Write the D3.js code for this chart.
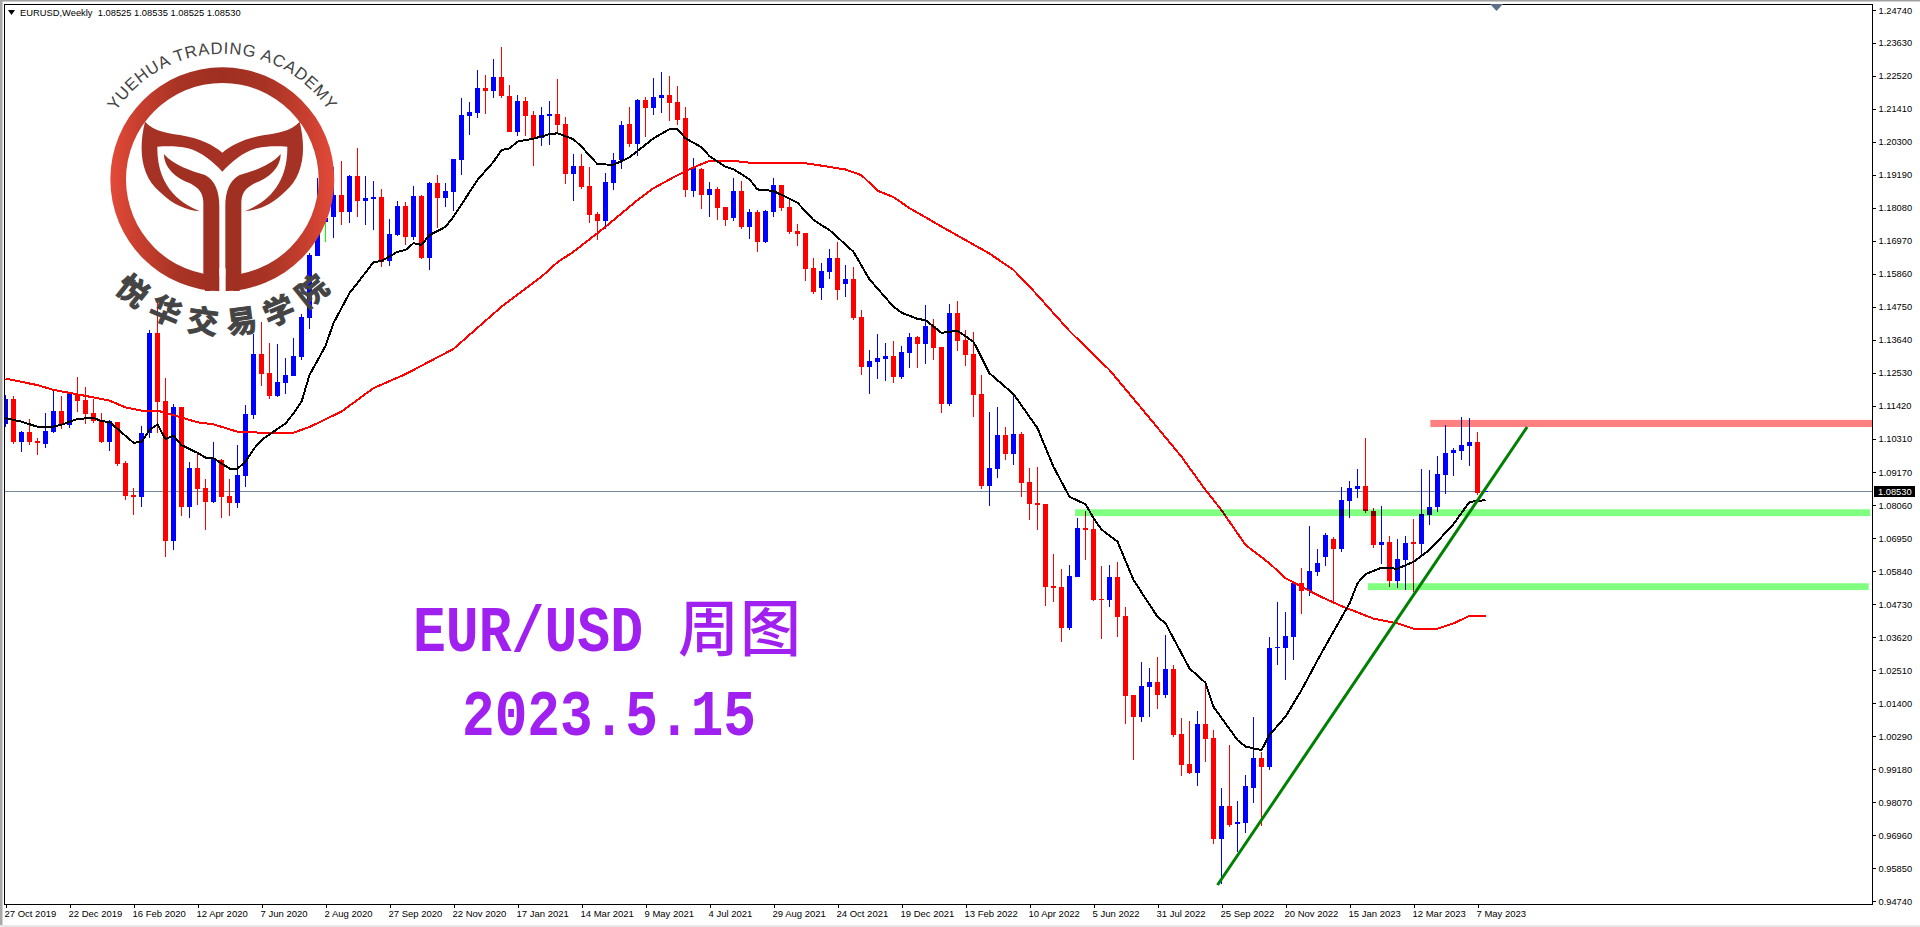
<!DOCTYPE html>
<html><head><meta charset="utf-8">
<script src="https://cdn.jsdelivr.net/npm/d3@7/dist/d3.min.js"></script>
<style>html,body{margin:0;padding:0;background:#fff;overflow:hidden}svg{display:block}
text{font-family:"Liberation Sans",Arial,sans-serif}</style></head><body><svg id="c" width="1920" height="927"></svg>
<script>
const opens=[1.1080,1.1164,1.1020,1.1053,1.1023,1.1013,1.1053,1.1124,1.1077,1.1181,
1.1161,1.1117,1.1090,1.1020,1.1087,1.0949,1.0841,1.0834,1.1050,1.1387,
1.1158,1.0686,1.1137,1.0801,1.0932,1.0865,1.0817,1.0959,1.0838,1.0814,
1.0905,1.1110,1.1316,1.1252,1.1175,1.1218,1.1242,1.1306,1.1437,1.1646,
1.1760,1.1777,1.1851,1.1794,1.1916,1.1831,1.1838,1.1845,1.1629,1.1717,
1.1815,1.1710,1.1848,1.1639,1.1892,1.1841,1.1861,1.1969,1.2117,1.2127,
1.2212,1.2201,1.2249,1.2184,1.2064,1.2168,1.2121,1.2043,1.2117,1.2124,
1.2090,1.1922,1.1949,1.1881,1.1787,1.1763,1.1892,1.1969,1.2090,1.2023,
1.2171,1.2144,1.2178,1.2188,1.2164,1.2110,1.1865,1.1939,1.1851,1.1871,
1.1811,1.1774,1.1865,1.1743,1.1794,1.1693,1.1794,1.1885,1.1811,1.1730,
1.1723,1.1606,1.1538,1.1592,1.1639,1.1551,1.1568,1.1440,1.1272,1.1289,
1.1299,1.1309,1.1238,1.1319,1.1373,1.1350,1.1410,1.1339,1.1148,1.1454,
1.1363,1.1316,1.1181,1.0872,1.0929,1.1043,1.0979,1.1047,1.0885,1.0814,
1.0811,1.0535,1.0531,1.0393,1.0565,1.0730,1.0727,1.0491,1.0488,1.0565,
1.0434,1.0168,1.0094,1.0195,1.0212,1.0168,1.0255,1.0037,.9935,.9905,
1.0070,1.0023,.9683,.9794,.9734,.9737,.9855,.9956,.9926,1.0326,
1.0326,1.0363,1.0545,1.0518,1.0582,1.0632,1.0693,1.0659,1.0821,1.0861,
1.0871,1.0787,1.0673,1.0683,1.0552,1.0622,1.0683,1.0676,1.0774,1.0801,
1.0909,1.0983,1.0989,1.1006,1.1020,1.08525];
const closes=[1.1164,1.1020,1.1053,1.1020,1.1017,1.1057,1.1124,1.1080,1.1181,1.1158,
1.1114,1.1090,1.1020,1.1090,1.0946,1.0838,1.0834,1.1050,1.1387,1.1154,
1.0686,1.1137,1.0801,1.0932,1.0861,1.0817,1.0966,1.0834,1.0814,1.0909,
1.1114,1.1316,1.1249,1.1175,1.1222,1.1245,1.1309,1.1440,1.1649,1.1760,
1.1775,1.1851,1.1794,1.1916,1.1831,1.1841,1.1845,1.1626,1.1720,1.1815,
1.1710,1.1848,1.1639,1.1892,1.1841,1.1865,1.1973,1.2121,1.2131,1.2212,
1.2201,1.2249,1.2184,1.2064,1.2168,1.2117,1.2043,1.2121,1.2124,1.2087,
1.1922,1.1949,1.1878,1.1784,1.1763,1.1895,1.1969,1.2087,1.2023,1.2171,
1.2144,1.2181,1.2188,1.2161,1.2104,1.1868,1.1942,1.1851,1.1871,1.1807,
1.1767,1.1865,1.1743,1.1794,1.1693,1.1797,1.1885,1.1807,1.1727,1.1720,
1.1602,1.1525,1.1595,1.1639,1.1531,1.1568,1.1437,1.1272,1.1292,1.1302,
1.1309,1.1238,1.1323,1.1373,1.1350,1.1410,1.1336,1.1148,1.1454,1.1360,
1.1312,1.1178,1.0872,1.0932,1.1043,1.0979,1.1047,1.0882,1.0811,1.0808,
1.0531,1.0528,1.0393,1.0569,1.0730,1.0723,1.0488,1.0488,1.0565,1.0431,
1.0165,1.0094,1.0198,1.0212,1.0168,1.0255,1.0033,.9932,.9905,1.0070,
1.0020,.9683,.9794,.9730,.9740,.9862,.9956,.9926,1.0326,1.0329,
1.0366,1.0545,1.0518,1.0585,1.0612,1.0706,1.0659,1.0824,1.0865,1.0871,
1.0787,1.0673,1.0683,1.0552,1.0626,1.0680,1.0676,1.0777,1.0801,1.0912,
1.0983,1.0993,1.1009,1.1020,1.0848,1.0853];
const highs=[1.1178,1.1175,1.1057,1.1097,1.1033,1.1117,1.1191,1.1175,1.1185,1.1239,
1.1205,1.1164,1.1117,1.1094,1.1087,1.0956,1.0865,1.1073,1.1397,1.1494,
1.1235,1.1147,1.1137,1.0952,1.0982,1.0895,1.1020,1.0962,1.0895,1.1010,
1.1144,1.1383,1.1424,1.1353,1.1349,1.1302,1.1370,1.1450,1.1656,1.1909,
1.1800,1.1945,1.1966,1.1919,1.2010,1.1916,1.1898,1.1872,1.1770,1.1831,
1.1828,1.1882,1.1851,1.1895,1.1919,1.1892,1.1973,1.2178,1.2164,1.2272,
1.2255,1.2309,1.2349,1.2222,1.2188,1.2181,1.2134,1.2147,1.2168,1.2242,
1.2114,1.1989,1.1989,1.1945,1.1794,1.1925,1.1993,1.2100,1.2147,1.2174,
1.2181,1.2245,1.2265,1.2252,1.2218,1.2147,1.1976,1.1942,1.1895,1.1878,
1.1811,1.1909,1.1898,1.1804,1.1801,1.1801,1.1909,1.1885,1.1841,1.1754,
1.1723,1.1639,1.1622,1.1669,1.1693,1.1616,1.1609,1.1464,1.1329,1.1383,
1.1353,1.1360,1.1343,1.1387,1.1376,1.1481,1.1434,1.1339,1.1484,1.1494,
1.1397,1.1390,1.1245,1.1121,1.1137,1.1070,1.1185,1.1053,1.0932,1.0936,
1.0811,1.0642,1.0592,1.0605,1.0764,1.0787,1.0760,1.0602,1.0605,1.0615,
1.0464,1.0168,1.0279,1.0259,1.0296,1.0370,1.0269,1.0090,1.0080,1.0114,
1.0202,1.0050,.9855,1.0000,.9811,.9898,1.0094,.9976,1.0363,1.0481,
1.0447,1.0548,1.0596,1.0737,1.0659,1.0713,1.0700,1.0868,1.0888,1.0929,
1.1033,1.0797,1.0804,1.0703,1.0693,1.0703,1.0760,1.0929,1.0925,1.0972,
1.1077,1.0999,1.1103,1.1100,1.1053,1.08535];
const lows=[1.1071,1.1013,1.0986,1.1010,1.0976,1.1000,1.1050,1.1063,1.1067,1.1121,
1.1080,1.1084,1.1016,1.0990,1.0939,1.0825,1.0774,1.0801,1.1033,1.1050,
1.0633,1.0656,1.0771,1.0764,1.0808,1.0723,1.0814,1.0764,1.0771,1.0798,
1.0868,1.1097,1.1208,1.1164,1.1171,1.1181,1.1242,1.1296,1.1400,1.1646,
1.1694,1.1707,1.1751,1.1757,1.1777,1.1751,1.1733,1.1609,1.1612,1.1713,
1.1683,1.1700,1.1636,1.1599,1.1740,1.1811,1.1797,1.1919,1.2053,1.2110,
1.2124,1.2178,1.2178,1.2064,1.2050,1.2050,1.1949,1.2016,1.2020,1.2064,
1.1888,1.1831,1.1871,1.1757,1.1700,1.1737,1.1868,1.1939,1.2013,1.1983,
1.2046,1.2120,1.2127,1.2100,1.2087,1.1844,1.1844,1.1804,1.1777,1.1767,
1.1747,1.1764,1.1737,1.1703,1.1659,1.1690,1.1777,1.1797,1.1720,1.1680,
1.1562,1.1518,1.1498,1.1568,1.1498,1.1508,1.1430,1.1245,1.1181,1.1232,
1.1225,1.1218,1.1232,1.1269,1.1269,1.1282,1.1296,1.1117,1.1141,1.1326,
1.1275,1.1104,1.0861,1.0804,1.0899,1.0959,1.0942,1.0834,1.0757,1.0723,
1.0468,1.0481,1.0346,1.0387,1.0565,1.0622,1.0484,1.0356,1.0464,1.0363,
1.0070,.9949,1.0077,1.0094,1.0121,1.0158,1.0026,.9895,.9902,.9862,
.9942,.9666,.9532,.9724,.9639,.9703,.9804,.9727,.9915,1.0269,
1.0218,1.0286,1.0441,1.0501,1.0569,1.0602,1.0481,1.0649,1.0764,1.0831,
1.0781,1.0663,1.0609,1.0531,1.0528,1.0521,1.0515,1.0639,1.0740,1.0784,
1.0844,1.0905,1.0959,1.0939,1.0841,1.08525];
const fastMaBars=[0,2,4,6,7,9,11,12,13,16,17,18,19,20,21,22,24,25,26,28,29,30,31,32,33,35,36,37,38,40,41,43,44,46,47,49,50,51,52,53,55,56,59,61,62,63,64,66,68,69,71,72,74,76,78,81,83,84,85,87,88,90,91,93,94,96,99,101,103,106,108,111,112,114,115,117,119,121,123,126,129,131,133,135,136,137,139,141,144,145,148,150,151,154,155,157,158,160,162,164,166,168,169,170,172,174,176,178,181,183,185];
const fastMaValues=[1.1100,1.1088,1.1071,1.1071,1.1078,1.1097,1.1101,1.1090,1.1087,1.1017,1.1020,1.1060,1.1079,1.1029,1.1041,1.1009,1.0983,1.0967,1.0965,1.0930,1.0930,1.0953,1.0995,1.1026,1.1045,1.1082,1.1116,1.1155,1.1245,1.1343,1.1420,1.1521,1.1555,1.1625,1.1629,1.1660,1.1666,1.1689,1.1683,1.1716,1.1744,1.1778,1.1902,1.1963,1.2003,1.2008,1.2031,1.2041,1.2056,1.2059,1.2039,1.2014,1.1955,1.1953,1.1978,1.2042,1.2073,1.2073,1.2042,1.2012,1.1982,1.1946,1.1938,1.1904,1.1870,1.1865,1.1825,1.1767,1.1733,1.1660,1.1567,1.1475,1.1455,1.1434,1.1430,1.1387,1.1394,1.1357,1.1251,1.1181,1.1066,1.0936,1.0835,1.0810,1.0763,1.0725,1.0684,1.0555,1.0431,1.0409,1.0257,1.0209,1.0128,1.0016,.9994,.9982,1.0033,1.0095,1.0184,1.0285,1.0381,1.0476,1.0544,1.0575,1.0596,1.0593,1.0616,1.0656,1.0743,1.0818,1.0824];
const slowMaBars=[0,4,6,9,13,15,17,19,21,24,26,29,32,36,38,42,46,50,56,62,67,69,71,75,79,81,84,86,88,91,93,97,100,102,105,107,109,111,113,117,123,126,129,133,138,142,147,150,152,155,158,160,164,167,171,174,176,179,181,183,185];
const slowMaValues=[1.1233,1.1211,1.1195,1.1180,1.1159,1.1136,1.1125,1.1125,1.1110,1.1086,1.1079,1.1054,1.1051,1.1051,1.1070,1.1122,1.1201,1.1248,1.1333,1.1475,1.1576,1.1625,1.1660,1.1744,1.1834,1.1874,1.1918,1.1944,1.1966,1.1966,1.1960,1.1960,1.1958,1.1950,1.1937,1.1918,1.1866,1.1844,1.1807,1.1745,1.1654,1.1599,1.1514,1.1393,1.1262,1.1133,1.0970,1.0858,1.0790,1.0673,1.0611,1.0561,1.0504,1.0467,1.0425,1.0409,1.0391,1.0391,1.0409,1.0434,1.0434];
const priceTicks=[1.2474,1.2363,1.2252,1.2141,1.2030,1.1919,1.1808,1.1697,1.1586,1.1475,1.1364,1.1253,1.1142,1.1031,1.0917,1.0806,1.0695,1.0584,1.0473,1.0362,1.0251,1.0140,1.0029,.9918,.9807,.9696,.9585,.9474];
const dateLabels=["27 Oct 2019","22 Dec 2019","16 Feb 2020","12 Apr 2020","7 Jun 2020","2 Aug 2020","27 Sep 2020","22 Nov 2020","17 Jan 2021","14 Mar 2021","9 May 2021","4 Jul 2021","29 Aug 2021","24 Oct 2021","19 Dec 2021","13 Feb 2022","10 Apr 2022","5 Jun 2022","31 Jul 2022","25 Sep 2022","20 Nov 2022","15 Jan 2023","12 Mar 2023","7 May 2023"];
const dateBars=dateLabels.map((d,i)=>i*8);
const bandPrices=[[1.1094,1.1070],[1.0793,1.0770],[1.0544,1.0521]];
const bandBars=[[178.1,233.6],[133.7,233.1],[170.3,232.9]];
const bandColors=["#ff8080","#80ff80","#80ff80"];
const trendBars=[151.5,190.2], trendPrices=[.9528,1.1070];
const lastPrice=1.0853;
const headerText="EURUSD,Weekly  1.08525 1.08535 1.08525 1.08530";
const limeWickBars=[40];

const svg=d3.select("#c");
const L=4.5,R=1872.5,T=4.5,B=904.5;
const y=d3.scaleLinear().domain([.94640,1.24943]).range([904,4]);
const x=d3.scaleLinear().domain([0,1]).range([5.5,13.5]);
const fmt5=d=>d.toFixed(5);

// window chrome
svg.append("rect").attr("x",0).attr("y",0).attr("width",1920).attr("height",1.5).attr("fill","#a0a0a0");
svg.append("rect").attr("x",0).attr("y",0).attr("width",2.5).attr("height",927).attr("fill","#a8a8a8");
svg.append("rect").attr("x",0).attr("y",925).attr("width",1920).attr("height",2).attr("fill","#e8e8e8");

const defs=svg.append("defs");
defs.append("clipPath").attr("id","plot").append("rect").attr("x",5).attr("y",5).attr("width",R-5).attr("height",B-5);
const grad=defs.append("linearGradient").attr("id","ringG").attr("gradientUnits","userSpaceOnUse").attr("x1",-336).attr("x2",336).attr("y1",0).attr("y2",0);
[[0,"#e34a39"],[.12,"#c93f2f"],[.3,"#a93425"],[.5,"#9f2f21"],[.7,"#a93425"],[.88,"#c93f2f"],[1,"#e34a39"]].forEach(s=>grad.append("stop").attr("offset",s[0]).attr("stop-color",s[1]));

const plot=svg.append("g").attr("clip-path","url(#plot)");
const idx=d3.range(opens.length);
const col=i=>closes[i]>=opens[i]?"#0000ff":"#ff0000";

// last price line
plot.append("line").attr("x1",5).attr("x2",R).attr("y1",Math.round(y(lastPrice))+.5).attr("y2",Math.round(y(lastPrice))+.5).attr("stroke","#778899").attr("stroke-width",1);

const candles=plot.append("g").attr("shape-rendering","crispEdges");
candles.selectAll("line").data(idx).join("line")
 .attr("x1",i=>x(i)).attr("x2",i=>x(i))
 .attr("y1",i=>y(highs[i])).attr("y2",i=>y(lows[i]))
 .attr("stroke",i=>limeWickBars.includes(i)?"#00ff00":col(i)).attr("stroke-width",1);
candles.selectAll("rect").data(idx).join("rect")
 .attr("x",i=>x(i)-2.5).attr("width",5)
 .attr("y",i=>Math.round(y(Math.max(opens[i],closes[i]))))
 .attr("height",i=>Math.max(1,Math.round(y(Math.min(opens[i],closes[i])))-Math.round(y(Math.max(opens[i],closes[i])))))
 .attr("fill",col);

const line=d3.line().x(d=>x(d[0])).y(d=>y(d[1]));
plot.append("path").datum(slowMaBars.map((b,i)=>[b,slowMaValues[i]])).attr("d",line).attr("fill","none").attr("stroke","#ff0000").attr("stroke-width",2).attr("shape-rendering","crispEdges");
plot.append("path").datum(fastMaBars.map((b,i)=>[b,fastMaValues[i]])).attr("d",line).attr("fill","none").attr("stroke","#000000").attr("stroke-width",2).attr("shape-rendering","crispEdges");

// zones
plot.append("g").selectAll("rect").data(bandPrices).join("rect")
 .attr("x",(d,i)=>x(bandBars[i][0])).attr("width",(d,i)=>x(bandBars[i][1])-x(bandBars[i][0]))
 .attr("y",d=>y(d[0])).attr("height",d=>y(d[1])-y(d[0]))
 .attr("fill",(d,i)=>bandColors[i]).style("mix-blend-mode","multiply");

// trend line
plot.append("line").attr("x1",x(trendBars[0])).attr("x2",x(trendBars[1])).attr("y1",y(trendPrices[0])).attr("y2",y(trendPrices[1])).attr("stroke","#008000").attr("stroke-width",3);

// logo
const logo=svg.append("g").attr("transform","translate(90,20) scale(0.3333)");
const ring=d3.arc().innerRadius(289).outerRadius(336).startAngle(0).endAngle(2*Math.PI);
logo.append("path").attr("transform","translate(397,478)").attr("d",ring()).style("fill","url(#ringG)");
const tail="M165,305 C190,335 240,340 270,345 C330,355 370,375 397,398 C424,375 464,355 524,345 C554,340 604,335 629,305 C650,390 640,470 585,515 C545,555 505,570 464,574 C510,555 594,510 592,380 C560,378 530,378 500,385 C460,395 425,425 397,455 C369,425 334,395 294,385 C264,378 234,378 202,380 C200,510 284,555 330,574 C289,570 249,555 209,515 C154,470 144,390 165,305 Z";
logo.append("path").attr("d",tail).attr("fill","#a53224");
const leaf="M222,402 C250,435 300,452 345,465 C375,480 388,515 388,560 L388,795 L362,813 L345,813 L340,760 L340,545 C338,515 325,505 300,490 C260,475 222,445 222,402 Z";
logo.append("path").attr("d",leaf).attr("fill","#a03022");
logo.append("path").attr("d",leaf).attr("fill","#a03022").attr("transform","translate(794,0) scale(-1,1)");
logo.append("rect").attr("x",388).attr("y",745).attr("width",19).attr("height",72).attr("fill","#fff");
defs.append("path").attr("id","arcT").attr("d","M 45,335 A 382 382 0 0 1 749,335");
logo.append("text").attr("fill","#444").attr("font-size",50).attr("letter-spacing",2.5)
 .append("textPath").attr("href","#arcT").attr("startOffset","50%").attr("text-anchor","middle").text("YUEHUA TRADING ACADEMY");
Array.from("悦华交易学院").forEach((ch,i)=>{
  const ang=-38.75+15.5*i, a=ang*Math.PI/180, r=430;
  const cx=397+r*Math.sin(a), cy=478+r*Math.cos(a);
  logo.append("text").text(ch).attr("text-anchor","middle").attr("dy",".36em").attr("font-size",92)
   .attr("font-weight",700).style("font-family","'Noto Sans CJK SC'").attr("fill","#444").attr("stroke","#444").attr("stroke-width",3)
   .attr("transform",`translate(${cx},${cy}) rotate(${-ang})`);
});

// chart title texts
const purple="#a020f0";
const addMono=(t,xp,yp,len)=>svg.append("text").text(t).attr("x",xp).attr("y",yp).attr("textLength",len).attr("lengthAdjust","spacingAndGlyphs")
  .attr("fill",purple).attr("font-size",64).attr("font-weight",700).style("font-family","'Liberation Mono','DejaVu Sans Mono',monospace");
addMono("EUR/USD",413,651,230);
addMono("2023.5.15",462,735,294);
svg.append("text").text("周图").attr("x",678).attr("y",651).attr("fill",purple).attr("font-size",61).attr("font-weight",500).style("font-family","'Noto Sans CJK SC'").attr("letter-spacing",1);

// frame + axes
svg.append("path").attr("d",`M${L},${B}V${T}H${R}`).attr("fill","none").attr("stroke","#000").attr("shape-rendering","crispEdges");
const yAxis=d3.axisRight(y).tickValues(priceTicks).tickFormat(fmt5).tickSize(3).tickPadding(3).tickSizeOuter(0);
const gy=svg.append("g").attr("transform",`translate(${R},0)`).attr("shape-rendering","crispEdges").call(yAxis);
gy.select(".domain").attr("d",`M0,${T}V${B}`).attr("stroke","#000");
gy.selectAll("text").attr("font-size",9.3).attr("font-family","'Liberation Sans'").attr("fill","#000");
const xAxis=d3.axisBottom(x).tickValues(dateBars).tickFormat((d,i)=>dateLabels[i]).tickSize(3).tickPadding(3).tickSizeOuter(0);
const gx=svg.append("g").attr("transform",`translate(0,${B})`).attr("shape-rendering","crispEdges").call(xAxis);
gx.select(".domain").attr("d",`M${L},0H${R}`).attr("stroke","#000");
gx.selectAll("text").attr("text-anchor","start").attr("dx",-1.5).attr("font-size",9.5).attr("font-family","'Liberation Sans'").attr("fill","#000");

// last price tag
const ly=Math.round(y(lastPrice));
svg.append("rect").attr("x",1874).attr("y",ly-5).attr("width",41).attr("height",11).attr("fill","#000");
svg.append("text").text(fmt5(lastPrice)).attr("x",1878).attr("y",ly+4).attr("fill","#fff").attr("font-size",9.3);

// header
svg.append("path").attr("d","M8,10H15L11.5,15Z").attr("fill","#000");
svg.append("text").text(headerText).attr("x",20).attr("y",16).attr("fill","#000").attr("font-size",9.35).style("white-space","pre");
// scroll marker
svg.append("path").attr("d","M1490,4H1503L1496.5,11Z").attr("fill","#5f6f8a");
</script></body></html>
